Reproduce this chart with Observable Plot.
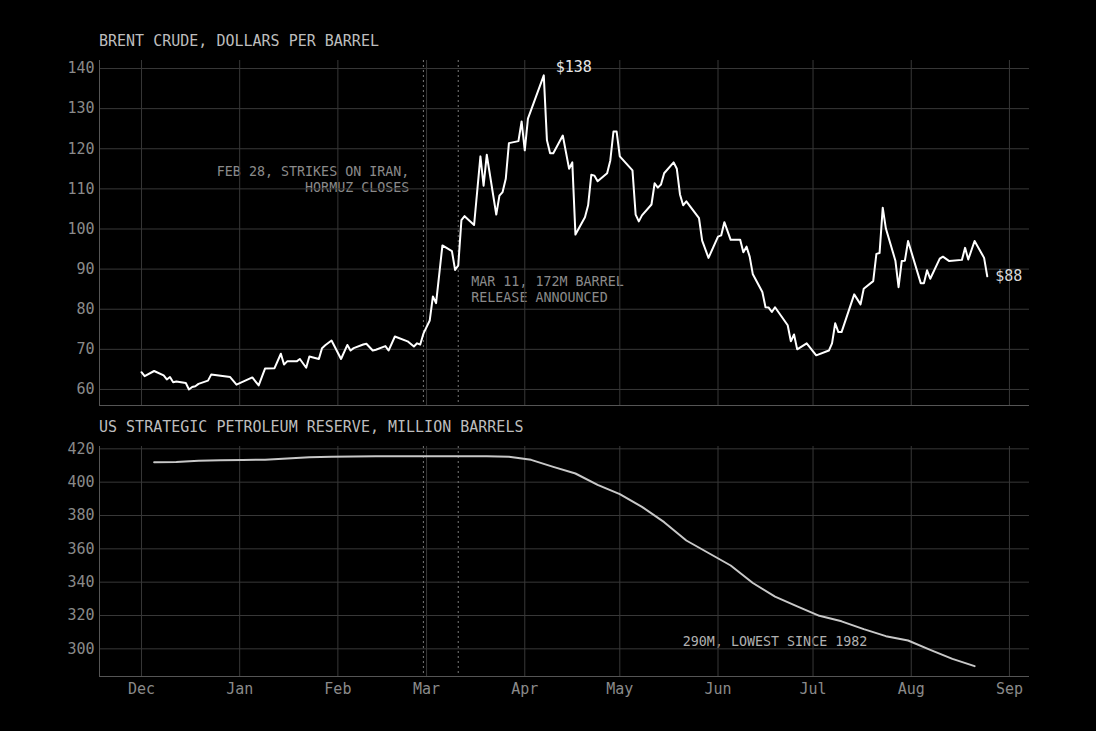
<!DOCTYPE html>
<html><head><meta charset="utf-8">
<script src="https://cdn.jsdelivr.net/npm/d3@7"></script>
<script src="https://cdn.jsdelivr.net/npm/@observablehq/plot@0.6"></script>
<style>
html,body{margin:0;padding:0;background:#000;}
#root{position:relative;width:1096px;height:731px;background:#000;font-family:"DejaVu Sans Mono",monospace;overflow:hidden;}
.title{position:absolute;left:99px;font-size:15px;color:#bdbdbd;line-height:18px;white-space:nowrap;}
.chart{position:absolute;left:0;}
</style></head><body>
<div id="root">
<div class="title" style="top:32px">BRENT CRUDE, DOLLARS PER BARREL</div>
<div class="chart" id="c1" style="top:50px"></div>
<div class="title" style="top:418px">US STRATEGIC PETROLEUM RESERVE, MILLION BARRELS</div>
<div class="chart" id="c2" style="top:436px"></div>
</div>
<script>
// ---- data ----
const brentDates = ["2025-12-01","2025-12-02","2025-12-05","2025-12-08","2025-12-09","2025-12-10","2025-12-11","2025-12-12","2025-12-15","2025-12-16","2025-12-17","2025-12-18","2025-12-19","2025-12-22","2025-12-23","2025-12-29","2025-12-31",
"2026-01-05","2026-01-07","2026-01-09","2026-01-12","2026-01-14","2026-01-15","2026-01-16","2026-01-19","2026-01-20","2026-01-22","2026-01-23","2026-01-26","2026-01-27","2026-01-28","2026-01-30",
"2026-02-02","2026-02-04","2026-02-05","2026-02-06","2026-02-09","2026-02-10","2026-02-12","2026-02-13","2026-02-16","2026-02-17","2026-02-19","2026-02-23","2026-02-25","2026-02-26","2026-02-27","2026-02-28",
"2026-03-02","2026-03-03","2026-03-04","2026-03-06","2026-03-09","2026-03-10","2026-03-11","2026-03-12","2026-03-13","2026-03-16","2026-03-18","2026-03-19","2026-03-20","2026-03-23","2026-03-24","2026-03-25","2026-03-26","2026-03-27","2026-03-30","2026-03-31",
"2026-04-01","2026-04-02","2026-04-07","2026-04-08","2026-04-09","2026-04-10","2026-04-13","2026-04-15","2026-04-16","2026-04-17","2026-04-20","2026-04-21","2026-04-22","2026-04-23","2026-04-24","2026-04-27","2026-04-28","2026-04-29","2026-04-30",
"2026-05-01","2026-05-05","2026-05-06","2026-05-07","2026-05-08","2026-05-11","2026-05-12","2026-05-13","2026-05-14","2026-05-15","2026-05-18","2026-05-19","2026-05-20","2026-05-21","2026-05-22","2026-05-26","2026-05-27","2026-05-29",
"2026-06-01","2026-06-02","2026-06-03","2026-06-05","2026-06-08","2026-06-09","2026-06-10","2026-06-11","2026-06-12","2026-06-15","2026-06-16","2026-06-17","2026-06-18","2026-06-19","2026-06-23","2026-06-24","2026-06-25","2026-06-26","2026-06-29",
"2026-07-02","2026-07-06","2026-07-07","2026-07-08","2026-07-09","2026-07-10","2026-07-14","2026-07-16","2026-07-17","2026-07-20","2026-07-21","2026-07-22","2026-07-23","2026-07-24","2026-07-27","2026-07-28","2026-07-29","2026-07-30","2026-07-31",
"2026-08-04","2026-08-05","2026-08-06","2026-08-07","2026-08-10","2026-08-11","2026-08-13","2026-08-17","2026-08-18","2026-08-19","2026-08-21","2026-08-24","2026-08-25"];
const brentPrices = [64.3,63.3,64.6,63.5,62.5,63.1,61.8,62.0,61.6,60.0,60.6,60.8,61.4,62.2,63.7,63.1,61.2,
63.0,61.0,65.2,65.3,68.9,66.2,67.0,67.0,67.6,65.4,68.2,67.6,70.3,71.0,72.2,
67.6,71.1,69.7,70.3,71.2,71.4,69.7,69.9,70.8,69.7,73.2,72.0,70.7,71.5,71.2,73.9,
77.2,83.2,81.5,95.9,94.5,89.8,90.9,102.2,103.2,101.0,118.1,110.8,118.5,103.6,108.3,109.2,112.5,121.4,121.9,126.8,
119.6,127.5,138.3,122.1,118.9,118.9,123.3,115.0,116.6,98.6,102.9,105.9,113.5,113.3,111.9,113.9,117.1,124.3,124.3,
118.1,114.6,103.6,101.9,103.4,106.1,111.4,110.3,111.1,113.9,116.6,115.0,108.6,105.9,106.9,102.7,97.1,92.8,
98.1,98.4,101.7,97.3,97.3,94.2,95.6,93.1,88.7,84.3,80.5,80.4,79.3,80.5,76.0,72.0,73.7,70.0,71.5,
68.5,69.7,71.5,76.5,74.3,74.3,83.7,81.2,85.1,87.0,93.8,94.0,105.3,100.1,92.1,85.5,92.0,92.1,97.0,
86.5,86.5,89.7,87.6,92.6,93.1,92.0,92.3,95.3,92.4,97.0,92.8,88.2];

const sprDates = ["2025-12-05","2025-12-12","2025-12-19","2025-12-26","2026-01-02","2026-01-09","2026-01-16","2026-01-23","2026-01-30","2026-02-06","2026-02-13","2026-02-20","2026-02-27","2026-03-06","2026-03-13","2026-03-20","2026-03-27","2026-04-03","2026-04-10","2026-04-17","2026-04-24","2026-05-01","2026-05-08","2026-05-15","2026-05-22","2026-05-29","2026-06-05","2026-06-12","2026-06-19","2026-06-26","2026-07-03","2026-07-10","2026-07-17","2026-07-24","2026-07-31","2026-08-07","2026-08-14","2026-08-21"];
const sprLevels = [412.0,412.1,412.8,413.1,413.3,413.5,414.2,414.9,415.3,415.4,415.5,415.6,415.6,415.6,415.6,415.6,415.3,413.4,409.2,405.2,398.4,392.8,385.2,376.0,365.0,357.5,350.0,339.5,331.3,325.5,319.8,316.5,311.8,307.6,305.0,299.4,294.0,289.6];

const monthTicks = ["2025-12-01","2026-01-01","2026-02-01","2026-03-01","2026-04-01","2026-05-01","2026-06-01","2026-07-01","2026-08-01","2026-09-01"];
const brentTicks = [60,70,80,90,100,110,120,130,140];
const sprTicks = [300,320,340,360,380,400,420];
const eventDates = ["2026-02-28","2026-03-11"];
const eventLabels = ["FEB 28, STRIKES ON IRAN,\nHORMUZ CLOSES","MAR 11, 172M BARREL\nRELEASE ANNOUNCED"];
const sprNote = "290M, LOWEST SINCE 1982";

// ---- build ----
const parse = d3.utcParse("%Y-%m-%d");
const brent = brentDates.map((d,i)=>({date:parse(d), price:brentPrices[i]}));
const spr = sprDates.map((d,i)=>({date:parse(d), level:sprLevels[i]}));
const months = monthTicks.map(parse);
const events = eventDates.map((d,i)=>({date:parse(d), label:eventLabels[i]}));
const peak = d3.greatest(brent, d=>d.price);
const last = brent[brent.length-1];
const xDomain = [new Date(Date.UTC(2025,10,17,18)), new Date(Date.UTC(2026,8,7,8))];
const gridColor = "#383838";
const frameColor = "#555";
const font = "DejaVu Sans Mono, monospace";

const common = {
  width:1096, marginLeft:99, marginRight:67,
  style:{background:"#000", color:"#8a8a8a", fontFamily:font, fontSize:"15px", overflow:"visible"}
};

const chart1 = Plot.plot({
  ...common, height:360, marginTop:10, marginBottom:5,
  x:{type:"utc", domain:xDomain, axis:null},
  y:{domain:[56,142], ticks:brentTicks, tickSize:0, tickPadding:5, label:null},
  marks:[
    Plot.text([events[0]], {x:"date", y:()=>112.6, text:"label", textAnchor:"end", lineAnchor:"middle", lineHeight:1.2, dx:-14, fill:"#8a8a8a", fontSize:13.33, fontFamily:font}),
    Plot.text([events[1]], {x:"date", y:()=>85.1, text:"label", textAnchor:"start", lineAnchor:"middle", lineHeight:1.2, dx:13, fill:"#8a8a8a", fontSize:13.33, fontFamily:font}),
    Plot.gridY(brentTicks, {stroke:gridColor, strokeOpacity:1}),
    Plot.gridX(months, {stroke:gridColor, strokeOpacity:1}),
    Plot.ruleX([xDomain[0]], {stroke:frameColor}),
    Plot.ruleY([56], {stroke:frameColor}),
    Plot.ruleX(events, {x:"date", stroke:"#7a7a7a", strokeDasharray:"2,3"}),
    Plot.line(brent, {x:"date", y:"price", stroke:"#fff", strokeWidth:2}),
    Plot.text([peak], {x:"date", y:"price", text:d=>`$${Math.round(d.price)}`, textAnchor:"start", dx:12, dy:-8, fill:"#e6e6e6", fontSize:15, fontFamily:font}),
    Plot.text([last], {x:"date", y:"price", text:d=>`$${Math.round(d.price)}`, textAnchor:"start", dx:8, fill:"#d8d8d8", fontSize:15, fontFamily:font})
  ]
});
document.getElementById("c1").append(chart1);

const chart2 = Plot.plot({
  ...common, height:275, marginTop:10, marginBottom:35,
  x:{type:"utc", domain:xDomain, ticks:months, tickFormat:d3.utcFormat("%b"), tickSize:0, tickPadding:7, label:null},
  y:{domain:[283.4,421.4], ticks:sprTicks, tickSize:0, tickPadding:5, label:null},
  marks:[
    Plot.text([sprNote], {x:()=>parse("2026-06-19"), y:()=>304.4, text:d=>d, textAnchor:"middle", fill:"#b0b0b0", fontSize:13.33, fontFamily:font}),
    Plot.gridY(sprTicks, {stroke:gridColor, strokeOpacity:1}),
    Plot.gridX(months, {stroke:gridColor, strokeOpacity:1}),
    Plot.ruleX([xDomain[0]], {stroke:frameColor}),
    Plot.ruleY([283.4], {stroke:frameColor}),
    Plot.ruleX(events, {x:"date", stroke:"#7a7a7a", strokeDasharray:"2,3"}),
    Plot.line(spr, {x:"date", y:"level", stroke:"#c8c8c8", strokeWidth:2})
  ]
});
document.getElementById("c2").append(chart2);
</script>
</body></html>
